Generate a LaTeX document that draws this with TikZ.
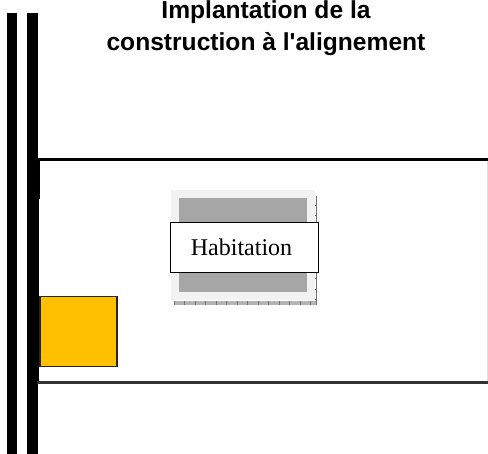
\documentclass[tikz,border=0pt]{standalone}
\usepackage{fontspec}
\newfontfamily\titleface{Liberation Sans}
\newfontfamily\serifface{Liberation Serif}
\definecolor{lotyellow}{HTML}{FFC000}
\definecolor{housedark}{HTML}{A6A6A6}
\definecolor{houselight}{HTML}{F2F2F2}
\definecolor{tickgrey}{HTML}{B4B4B4}
\tikzset{
  road/.style={fill=black,draw=none},
  lotline/.style={draw=black,line width=2.8pt},
  titlelabel/.style={font=\titleface\fontsize{24.6}{32.5}\selectfont\bfseries,align=center,anchor=north,inner sep=0pt},
  houselabel/.style={draw=black,fill=white,line width=1.8pt,minimum width=148pt,minimum height=50pt,inner sep=0pt,font=\serifface\fontsize{24}{28}\selectfont},
  garage/.style={fill=lotyellow,draw=black!85,line width=1.2pt}
}
\begin{document}
\begin{tikzpicture}[x=1pt,y=-1pt]
\useasboundingbox (0,0) rectangle (488,454);
\fill[white] (0,0) rectangle (488,454);
% road
\fill[road] (7,13) rectangle (16.5,454);
\fill[road] (27,13) rectangle (37.5,454);
\fill[road] (37,158) rectangle (40,199);
\fill[road] (37,199) rectangle (39,384);
% lot
\coordinate (lotTL) at (37,159.2);
\coordinate (lotTR) at (488,159.2);
\coordinate (lotBL) at (37,382.5);
\coordinate (lotBR) at (488,382.5);
\draw[lotline] (lotTL) -- (lotTR);
\draw[lotline,draw=black!80] (lotBL) -- (lotBR);
\draw[black!12,line width=1pt] (487.5,161) -- (487.5,381);
% house
\fill[houselight] (171,190) rectangle (315,300);
\fill[housedark] (179,198) rectangle (307,292);
\fill[tickgrey] (174,301.5) rectangle (317,305);
\foreach \tx in {174,184.5,...,317}{\draw[black!55,line width=0.6pt] (\tx,301.5) -- (\tx,305);}
\draw[black!55,line width=1.2pt] (316.3,196) -- (316.3,305);
\foreach \ty in {205,215.5,...,305}{\draw[black!60,line width=0.6pt] (315,\ty) -- (317,\ty);}
\node[houselabel] (hab) at (244.5,247.5) {Habitation\kern6pt};
% garage
\node[garage,minimum width=77pt,minimum height=69.5pt,inner sep=0pt] (gar) at (78.5,331.5) {};
% title
\node[titlelabel] (title) at (266,0) {Implantation de la\\construction à l'alignement};
\end{tikzpicture}
\end{document}
